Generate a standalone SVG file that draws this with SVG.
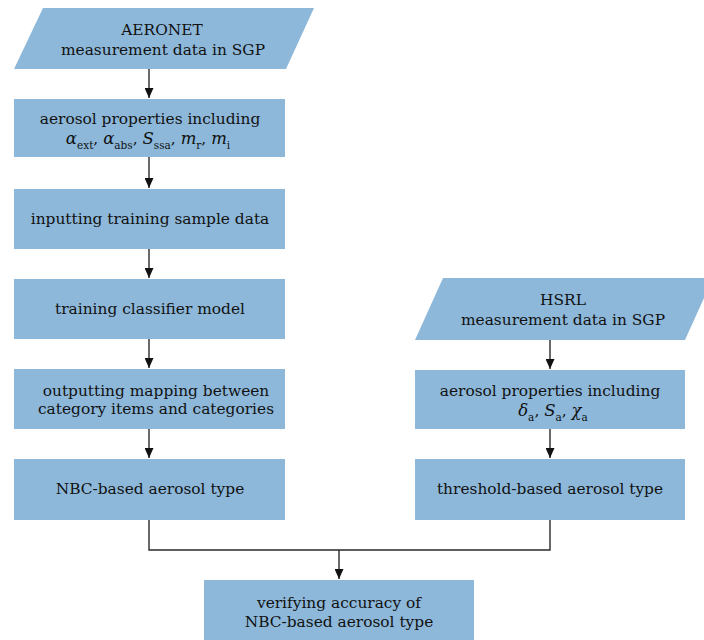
<svg xmlns="http://www.w3.org/2000/svg" width="704" height="640" viewBox="0 0 704 640">
<defs>
<style>
.node{fill:#8db8da;}
.t{font-family:"DejaVu Serif","Liberation Serif",serif;font-size:15.4px;fill:#111;text-anchor:middle;}
.m{font-style:italic;font-size:16.5px;}
.sub{font-size:10.5px;font-style:normal;}
.c{fill:none;stroke:#2a2a2a;stroke-width:1.4;}
</style>
<marker id="ah" viewBox="0 0 10 10" refX="10" refY="5" markerWidth="10" markerHeight="9" markerUnits="userSpaceOnUse" orient="auto" preserveAspectRatio="none">
<path d="M0,0 L10,5 L0,10 Z" fill="#111"/>
</marker>
</defs>
<rect width="704" height="640" fill="#fff"/>
<g id="connectors">
<line class="c" x1="149" y1="69" x2="149" y2="98" marker-end="url(#ah)"/>
<line class="c" x1="149" y1="157" x2="149" y2="188" marker-end="url(#ah)"/>
<line class="c" x1="149" y1="249" x2="149" y2="278" marker-end="url(#ah)"/>
<line class="c" x1="149" y1="339" x2="149" y2="368" marker-end="url(#ah)"/>
<line class="c" x1="149" y1="429" x2="149" y2="458" marker-end="url(#ah)"/>
<line class="c" x1="550" y1="340" x2="550" y2="369" marker-end="url(#ah)"/>
<line class="c" x1="550" y1="429" x2="550" y2="458" marker-end="url(#ah)"/>
<polyline class="c" points="149,520 149,550 550,550 550,520"/>
<line class="c" x1="339" y1="550" x2="339" y2="579" marker-end="url(#ah)"/>
</g>
<g id="aeronet">
<polygon class="node" points="43,8 314,8 286,69 14,69"/>
<text class="t" x="162" y="35">AERONET</text>
<text class="t" x="163" y="55">measurement data in SGP</text>
</g>
<g id="props1">
<rect class="node" x="14" y="99" width="271" height="58"/>
<text class="t" x="150" y="124">aerosol properties including</text>
<text class="t" x="148" y="144"><tspan class="m">α</tspan><tspan class="sub" dy="5">ext</tspan><tspan dy="-5">, </tspan><tspan class="m">α</tspan><tspan class="sub" dy="5">abs</tspan><tspan dy="-5">, </tspan><tspan class="m">S</tspan><tspan class="sub" dy="5">ssa</tspan><tspan dy="-5">, </tspan><tspan class="m">m</tspan><tspan class="sub" dy="5">r</tspan><tspan dy="-5">, </tspan><tspan class="m">m</tspan><tspan class="sub" dy="5">i</tspan></text>
</g>
<g id="inputting">
<rect class="node" x="14" y="189" width="271" height="60"/>
<text class="t" x="150" y="224">inputting training sample data</text>
</g>
<g id="training">
<rect class="node" x="14" y="279" width="271" height="60"/>
<text class="t" x="150" y="314">training classifier model</text>
</g>
<g id="outputting">
<rect class="node" x="14" y="369" width="271" height="60"/>
<text class="t" x="156" y="396">outputting mapping between</text>
<text class="t" x="156" y="414">category items and categories</text>
</g>
<g id="nbc">
<rect class="node" x="14" y="459" width="271" height="61"/>
<text class="t" x="150" y="494">NBC-based aerosol type</text>
</g>
<g id="hsrl">
<polygon class="node" points="443,278 713,278 685,340 415,340"/>
<text class="t" x="563" y="305">HSRL</text>
<text class="t" x="563" y="325">measurement data in SGP</text>
</g>
<g id="props2">
<rect class="node" x="415" y="370" width="270" height="59"/>
<text class="t" x="550" y="396">aerosol properties including</text>
<text class="t" x="553" y="416"><tspan class="m">δ</tspan><tspan class="sub" dy="5">a</tspan><tspan dy="-5">, </tspan><tspan class="m">S</tspan><tspan class="sub" dy="5">a</tspan><tspan dy="-5">, </tspan><tspan class="m">χ</tspan><tspan class="sub" dy="5">a</tspan></text>
</g>
<g id="threshold">
<rect class="node" x="415" y="459" width="270" height="61"/>
<text class="t" x="550" y="494">threshold-based aerosol type</text>
</g>
<g id="verify">
<rect class="node" x="204" y="580" width="270" height="60"/>
<text class="t" x="339" y="608">verifying accuracy of</text>
<text class="t" x="339" y="627">NBC-based aerosol type</text>
</g>
</svg>
